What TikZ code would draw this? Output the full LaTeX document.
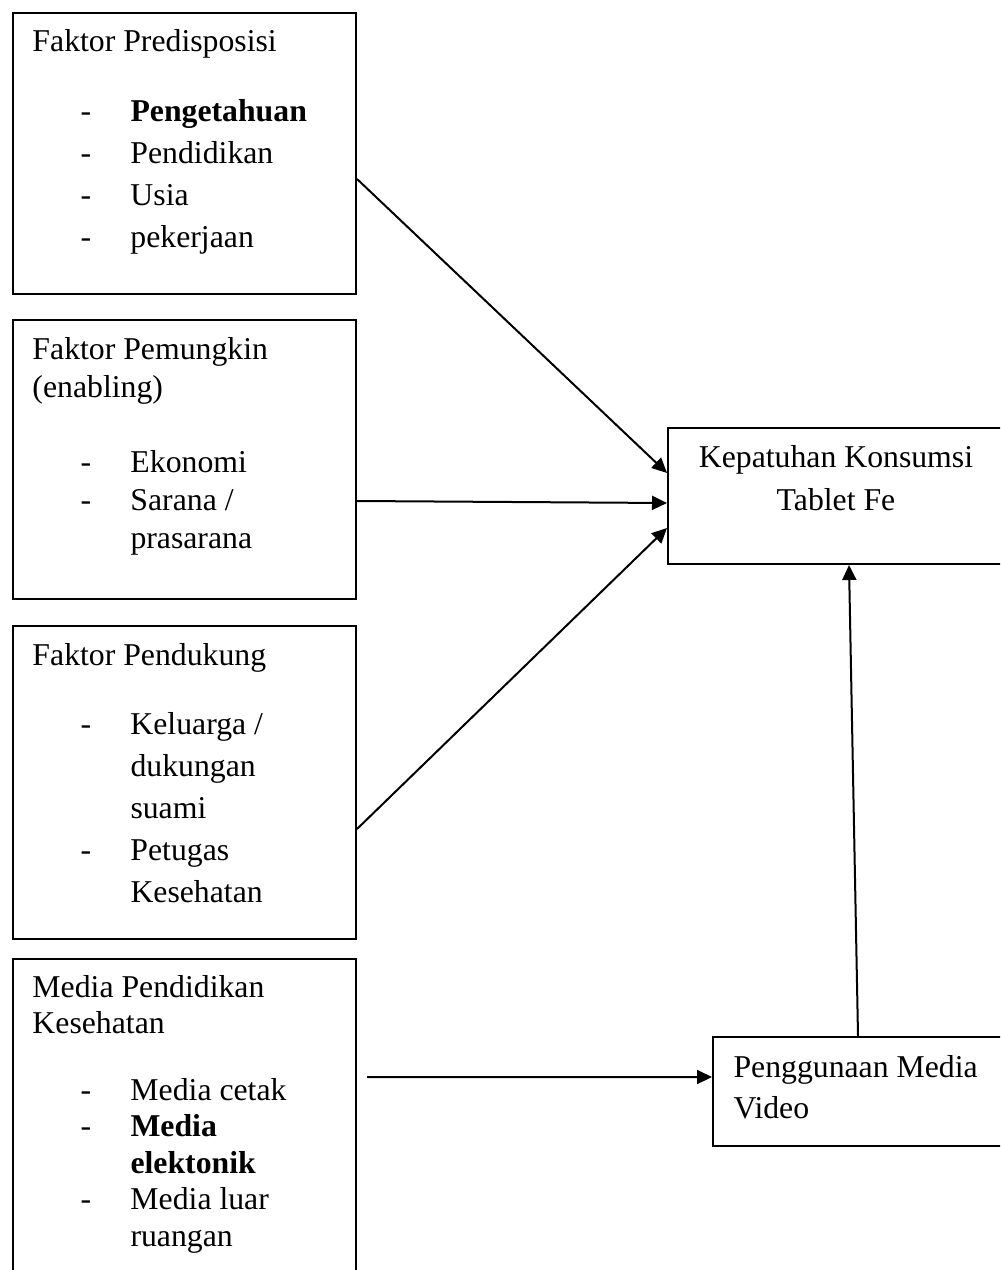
\documentclass[tikz,border=0pt]{standalone}
\usepackage{fontspec}
\setmainfont{Liberation Serif}
\usetikzlibrary{arrows.meta}

\newcommand\itemline[1]{\hspace*{19.2pt}\makebox[20pt][l]{-}#1}
\newcommand\itemcont[1]{\hspace*{39.2pt}#1}

\begin{document}
\begin{tikzpicture}[x=0.4pt,y=-0.4pt,
    box/.style={draw,line width=0.8pt,anchor=north west,inner sep=0pt,minimum width=137.2pt},
    txt/.style={anchor=base west,inner sep=0pt,text width=130pt,align=flush left,font=\fontsize{12.7}{16.8}\selectfont},
    arrow/.style={-{Triangle[length=6pt,width=5.6pt]},line width=0.8pt}]
    \clip (0,0) rectangle (1000,1270);

    % left column
    \node[box,minimum height=112.4pt] (predis) at (12,12) {};
    \node[txt] (predistxt) at (32,52) {Faktor Predisposisi\\[11.2pt]
        \itemline{\textbf{Pengetahuan}}\\ \itemline{Pendidikan}\\ \itemline{Usia}\\ \itemline{pekerjaan}};

    \node[box,minimum height=111.6pt] (pemungkin) at (12,319) {};
    \node[txt,font=\fontsize{12.7}{15.2}\selectfont] (pemungkintxt) at (32,360) {Faktor Pemungkin\\ (enabling)\\[14.4pt]
        \itemline{Ekonomi}\\ \itemline{Sarana /}\\ \itemcont{prasarana}};

    \node[box,minimum height=125.2pt] (pendukung) at (12,625) {};
    \node[txt] (pendukungtxt) at (32,665) {Faktor Pendukung\\[10.8pt]
        \itemline{Keluarga /}\\ \itemcont{dukungan}\\ \itemcont{suami}\\ \itemline{Petugas}\\ \itemcont{Kesehatan}};

    \node[box,minimum height=132.8pt] (mediapk) at (12,958) {};
    \node[txt,font=\fontsize{12.7}{14.6}\selectfont] (mediapktxt) at (32,997) {Media Pendidikan\\ Kesehatan\\[12pt]
        \itemline{Media cetak}\\ \itemline{\textbf{Media}}\\ \itemcont{\textbf{elektonik}}\\ \itemline{Media luar}\\ \itemcont{ruangan}};

    % right column
    \node[box,minimum height=54.4pt] (kepatuhan) at (667,427) {};
    \node[txt,anchor=base,align=flush center] (kepatuhantxt) at (836,468) {Kepatuhan Konsumsi\\ Tablet Fe};

    \node[box,minimum width=119.2pt,minimum height=43.6pt] (video) at (712,1036) {};
    \node[txt,font=\fontsize{12.7}{16.4}\selectfont] (videotxt) at (733,1077) {Penggunaan Media\\ Video};

    % connectors
    \draw[arrow] ([yshift=-10.2pt]predis.east) -- ([yshift=9.2pt]kepatuhan.west);
    \draw[arrow] ([yshift=-16.6pt]pemungkin.east) -- ([yshift=-2.8pt]kepatuhan.west);
    \draw[arrow] ([yshift=-18.6pt]pendukung.east) -- ([yshift=-12.8pt]kepatuhan.west);
    \draw[arrow] ([xshift=4pt,yshift=19.2pt]mediapk.east) -- ([yshift=5.8pt]video.west);
    \draw[arrow] ([xshift=-1.6pt]video.north) -- ([xshift=3.8pt]kepatuhan.south);
\end{tikzpicture}
\end{document}
